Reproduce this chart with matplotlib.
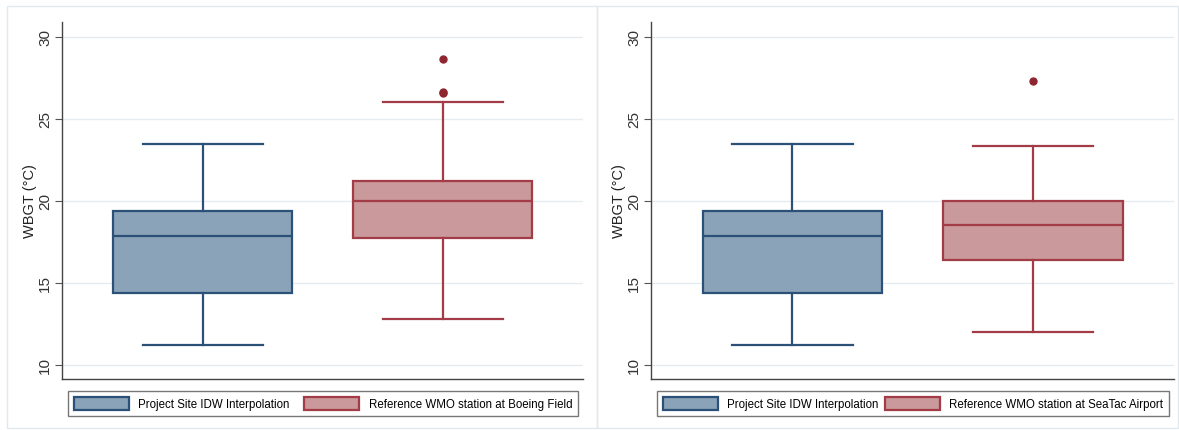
import matplotlib
matplotlib.use("Agg")
import matplotlib.pyplot as plt
from matplotlib.patches import Patch, Rectangle

plt.rcParams['font.family'] = ['Liberation Sans', 'DejaVu Sans']

# summary stats (WBGT, deg C)
site_stats = [11.2, 14.37, 17.85, 19.40, 23.44]          # lo whisker, q1, med, q3, hi whisker
boeing_stats = [12.81, 17.75, 19.99, 21.19, 25.99]
boeing_fliers = [28.64, 26.65, 26.55]
seatac_stats = [12.02, 16.39, 18.54, 19.99, 23.32]
seatac_fliers = [27.31]
site_fliers = []

labels_left = ['Project Site IDW Interpolation', 'Reference WMO station at Boeing Field']
labels_right = ['Project Site IDW Interpolation', 'Reference WMO station at SeaTac Airport']
yticks = [10, 15, 20, 25, 30]

blue_fill, blue_edge = '#8ba3b8', '#2b5178'
red_fill, red_edge = '#c9999b', '#a33c46'
flier_col = '#8e2630'


def to_stats(s, fl):
    return dict(whislo=s[0], q1=s[1], med=s[2], q3=s[3], whishi=s[4], fliers=fl)


fig = plt.figure(figsize=(11.79, 4.31), dpi=100)

# light panel frames like the stata graph regions
W, H = 1179, 431
for x0, x1 in [(7, 597), (597, 1178)]:
    fig.patches.append(Rectangle((x0 / W, 1 - 429 / H), (x1 - x0) / W, 422 / H,
                                 transform=fig.transFigure, fill=False,
                                 edgecolor='#e2e9ee', lw=1.0))

panels = [
    ([62 / W, 51 / H, 521 / W, 357.3 / H], boeing_stats, boeing_fliers, labels_left,
     [68 / W, 14 / H, 510 / W, 27 / H]),
    ([651 / W, 51 / H, 523 / W, 357.3 / H], seatac_stats, seatac_fliers, labels_right,
     [657 / W, 14 / H, 512 / W, 27 / H]),
]

for pos, ref_stats, ref_fliers, labels, leg_box in panels:
    ax = fig.add_axes(pos)
    stats = [to_stats(site_stats, site_fliers), to_stats(ref_stats, ref_fliers)]
    bp = ax.bxp(stats, positions=[1, 2], widths=0.746, capwidths=0.5,
                patch_artist=True, showfliers=True)
    for i, (fc, ec) in enumerate([(blue_fill, blue_edge), (red_fill, red_edge)]):
        bp['boxes'][i].set_facecolor(fc)
        bp['boxes'][i].set_edgecolor(ec)
        bp['boxes'][i].set_linewidth(1.6)
        bp['medians'][i].set_color(ec)
        bp['medians'][i].set_linewidth(1.6)
        for ln in bp['whiskers'][2 * i:2 * i + 2] + bp['caps'][2 * i:2 * i + 2]:
            ln.set_color(ec)
            ln.set_linewidth(1.6)
        bp['fliers'][i].set_marker('o')
        bp['fliers'][i].set_markerfacecolor(flier_col)
        bp['fliers'][i].set_markeredgecolor(flier_col)
        bp['fliers'][i].set_markersize(5)

    ax.set_xlim(0.4125, 2.585)
    ax.set_ylim(9.13, 30.91)
    ax.set_yticks(yticks)
    ax.set_yticklabels([str(t) for t in yticks], rotation=90, va='center',
                       fontsize=11, color='#333333')
    ax.set_xticks([])
    ax.grid(axis='y', color='#e4ecf0', lw=1.0)
    ax.set_axisbelow(True)
    ax.tick_params(axis='y', length=5, width=0.8, color='#555555', pad=2)
    for sp in ['top', 'right']:
        ax.spines[sp].set_visible(False)
    for sp in ['left', 'bottom']:
        ax.spines[sp].set_color('#444444')
        ax.spines[sp].set_linewidth(1.0)
    ax.set_ylabel('WBGT (°C)', fontsize=10.5, color='#222222', labelpad=1)

    handles = [Patch(facecolor=blue_fill, edgecolor=blue_edge, lw=1.6),
               Patch(facecolor=red_fill, edgecolor=red_edge, lw=1.6)]
    leg = fig.legend(handles, labels, ncol=2, loc='lower left',
                     bbox_to_anchor=leg_box, bbox_transform=fig.transFigure,
                     mode='expand', borderaxespad=0, fontsize=8.3,
                     handlelength=4.8, handleheight=1.45, handletextpad=0.8,
                     columnspacing=1.5, fancybox=False, frameon=True,
                     borderpad=0.5)
    leg.get_frame().set_edgecolor('#555555')
    leg.get_frame().set_linewidth(1.0)

fig.savefig('out.png', dpi=100, facecolor='white')
